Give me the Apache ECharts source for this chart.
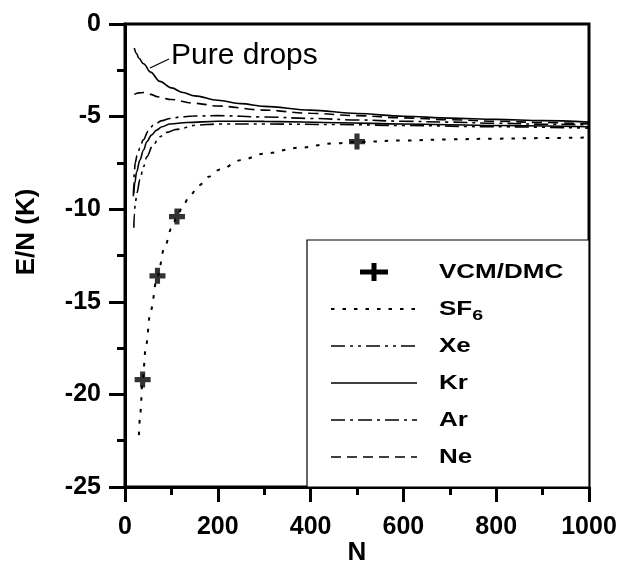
<!DOCTYPE html>
<html>
<head>
<meta charset="utf-8">
<script src="https://cdn.jsdelivr.net/npm/echarts@6/dist/echarts.min.js"></script>
<style>
  html, body { margin: 0; padding: 0; background: #fff; }
  #chart { width: 623px; height: 567px; }
</style>
</head>
<body>
<div id="chart"></div>
<script>
// Energy per atom E/N (K) of helium droplets vs. number of atoms N
const pureN  = [20, 25, 30, 40, 55, 75, 100, 125, 150, 200, 250, 300, 400, 500, 600, 700, 800, 900, 1000];
const pureE  = [-1.3, -1.6, -1.85, -2.15, -2.6, -3.1, -3.45, -3.7, -3.88, -4.12, -4.3, -4.45, -4.65, -4.83, -4.98, -5.08, -5.15, -5.22, -5.3];

const neN = [20, 30, 40, 55, 70, 100, 150, 200, 300, 400, 500, 600, 700, 800, 900, 1000];
const neE = [-3.8, -3.72, -3.7, -3.8, -3.93, -4.08, -4.28, -4.43, -4.65, -4.82, -4.95, -5.07, -5.17, -5.25, -5.32, -5.4];

const arN = [18, 19, 20, 22, 26, 32, 39, 50, 61, 80, 97, 120, 147, 200, 300, 400, 500, 600, 700, 800, 900, 1000];
const arE = [-9.3, -8.6, -8.0, -7.5, -7.1, -6.7, -6.27, -5.8, -5.46, -5.22, -5.1, -5.02, -4.97, -4.95, -5.02, -5.1, -5.18, -5.25, -5.3, -5.36, -5.41, -5.45];

const krN = [19, 21, 25, 32, 40, 47, 57, 68, 80, 97, 133, 200, 300, 463, 600, 800, 1000];
const krE = [-9.15, -8.6, -8.0, -7.35, -6.8, -6.36, -6.0, -5.73, -5.55, -5.4, -5.32, -5.25, -5.26, -5.33, -5.4, -5.48, -5.55];

const xeN = [19, 20, 22, 26, 32, 40, 47, 60, 75, 90, 111, 154, 200, 300, 463, 600, 800, 1000];
const xeE = [-11.0, -10.3, -9.7, -9.1, -8.4, -7.7, -7.17, -6.55, -6.09, -5.85, -5.69, -5.46, -5.4, -5.4, -5.43, -5.48, -5.55, -5.62];

const sf6N = [30, 33, 38, 45, 55, 70, 85, 100, 112, 125, 140, 160, 180, 205, 250, 300, 375, 450, 500, 600, 700, 800, 900, 1000];
const sf6E = [-22.2, -21.0, -19.2, -17.4, -15.5, -13.6, -12.1, -11.05, -10.4, -9.8, -9.25, -8.7, -8.25, -7.85, -7.35, -7.0, -6.68, -6.45, -6.37, -6.29, -6.23, -6.19, -6.16, -6.13];

// VCM/DMC results
const dmcN = [38, 70, 112, 500];
const dmcE = [-19.2, -13.6, -10.4, -6.35];

// axis ticks
const xTicks = [0, 200, 400, 600, 800, 1000];
const yTicks = [0, -5, -10, -15, -20, -25];

const pairs = (xs, ys) => xs.map((x, i) => [x, ys[i]]);
const FONT = 'Liberation Sans, Arial, Helvetica, sans-serif';
const PLUS = 'path://M3.4,0H6.6V3.4H10V6.6H6.6V10H3.4V6.6H0V3.4H3.4Z';

const G = { left: 125, top: 24, width: 464, height: 463 };

const DASH = {
  sf6: [3.5, 8],
  xe: [14, 5, 3, 5, 3, 5],
  ar: [14, 5, 3, 5],
  ne: [10, 6]
};

function lineSeries(name, xs, ys, type, width) {
  return {
    name, type: 'line', data: pairs(xs, ys),
    showSymbol: false, symbol: 'none', smooth: 0.35, smoothMonotone: 'x',
    lineStyle: { color: '#000', width: width || 1.6, type: type },
    z: 3, silent: true, animation: false
  };
}

// legend panel in the lower right corner of the plot
const LX0 = 331, LX1 = 417, LTX = 439, LY0 = 272, LDY = 37, TSX = 1.3;
const legendItems = [
  { label: 'SF', sub: '6', dash: DASH.sf6, width: 2 },
  { label: 'Xe', dash: DASH.xe },
  { label: 'Kr', dash: null },
  { label: 'Ar', dash: DASH.ar },
  { label: 'Ne', dash: DASH.ne }
];
const legendText = (x, y, text, size) => ({
  type: 'text', x: x, y: y, scaleX: TSX,
  style: { text: text, font: 'bold ' + size + 'px ' + FONT, fill: '#000', verticalAlign: 'middle' }, z: 11
});
const legendGraphics = [
  { type: 'rect', shape: { x: 307, y: 240, width: 282, height: 247 },
    style: { fill: '#fff', stroke: '#000', lineWidth: 1.2 }, z: 10 },
  { type: 'rect', shape: { x: 360, y: LY0 - 2.5, width: 28, height: 5 }, style: { fill: '#000' }, z: 11 },
  { type: 'rect', shape: { x: 371.5, y: LY0 - 9, width: 5, height: 18 }, style: { fill: '#000' }, z: 11 },
  legendText(LTX, LY0, 'VCM/DMC', 20)
];
const measure = document.createElement('canvas').getContext('2d');
legendItems.forEach((it, i) => {
  const y = LY0 + LDY * (i + 1);
  legendGraphics.push({
    type: 'line', shape: { x1: LX0, y1: y, x2: LX1, y2: y },
    style: { stroke: '#000', lineWidth: it.width || 1.6, lineDash: it.dash }, z: 11
  });
  legendGraphics.push(legendText(LTX, y, it.label, 20));
  if (it.sub) {
    measure.font = 'bold 20px ' + FONT;
    const w = measure.measureText(it.label).width * TSX;
    legendGraphics.push(legendText(LTX + w, y + 7, it.sub, 15));
  }
});

const chart = echarts.init(document.getElementById('chart'), null, { renderer: 'canvas' });
chart.setOption({
  backgroundColor: '#fff',
  animation: false,
  grid: Object.assign({ show: true, borderColor: '#000', borderWidth: 3, backgroundColor: 'transparent' }, G),
  xAxis: {
    type: 'value', min: 0, max: 1000, interval: 200,
    axisLine: { show: true, onZero: false, lineStyle: { color: '#000', width: 3 } },
    axisTick: { show: true, length: 15, lineStyle: { color: '#000', width: 3 } },
    minorTick: { show: true, splitNumber: 2, length: 8, lineStyle: { color: '#000', width: 3 } },
    splitLine: { show: false },
    axisLabel: { margin: 28, color: '#000', fontFamily: FONT, fontWeight: 'bold', fontSize: 25,
      formatter: v => xTicks.includes(v) ? String(v) : '' }
  },
  yAxis: {
    type: 'value', min: -25, max: 0, interval: 5,
    axisLine: { show: true, onZero: false, lineStyle: { color: '#000', width: 3 } },
    axisTick: { show: true, length: 16, lineStyle: { color: '#000', width: 3 } },
    minorTick: { show: true, splitNumber: 2, length: 8, lineStyle: { color: '#000', width: 3 } },
    splitLine: { show: false },
    axisLabel: { margin: 24, color: '#000', fontFamily: FONT, fontWeight: 'bold', fontSize: 25,
      formatter: v => yTicks.includes(v) ? String(v) : '' }
  },
  series: [
    lineSeries('Pure drops', pureN, pureE, 'solid'),
    lineSeries('Ne', neN, neE, DASH.ne),
    lineSeries('Ar', arN, arE, DASH.ar),
    lineSeries('Kr', krN, krE, 'solid'),
    lineSeries('Xe', xeN, xeE, DASH.xe),
    lineSeries('SF6', sf6N, sf6E, DASH.sf6, 2),
    {
      name: 'VCM/DMC', type: 'scatter', data: pairs(dmcN, dmcE),
      symbol: PLUS, symbolSize: 16, itemStyle: { color: '#000' }, z: 4, silent: true
    }
  ],
  graphic: [
    { type: 'text', x: 171, y: 56, style: { text: 'Pure drops', font: '30px ' + FONT, fill: '#000', verticalAlign: 'middle' } },
    { type: 'line', shape: { x1: 150, y1: 68, x2: 169, y2: 59 }, style: { stroke: '#000', lineWidth: 1.2 } },
    { type: 'text', x: 357, y: 553, style: { text: 'N', font: 'bold 26px ' + FONT, fill: '#000', align: 'center', verticalAlign: 'middle' } },
    { type: 'text', x: 27, y: 232, rotation: Math.PI / 2,
      style: { text: 'E/N (K)', font: 'bold 26px ' + FONT, fill: '#000', align: 'center', verticalAlign: 'middle' } }
  ].concat(legendGraphics)
});
</script>
</body>
</html>
